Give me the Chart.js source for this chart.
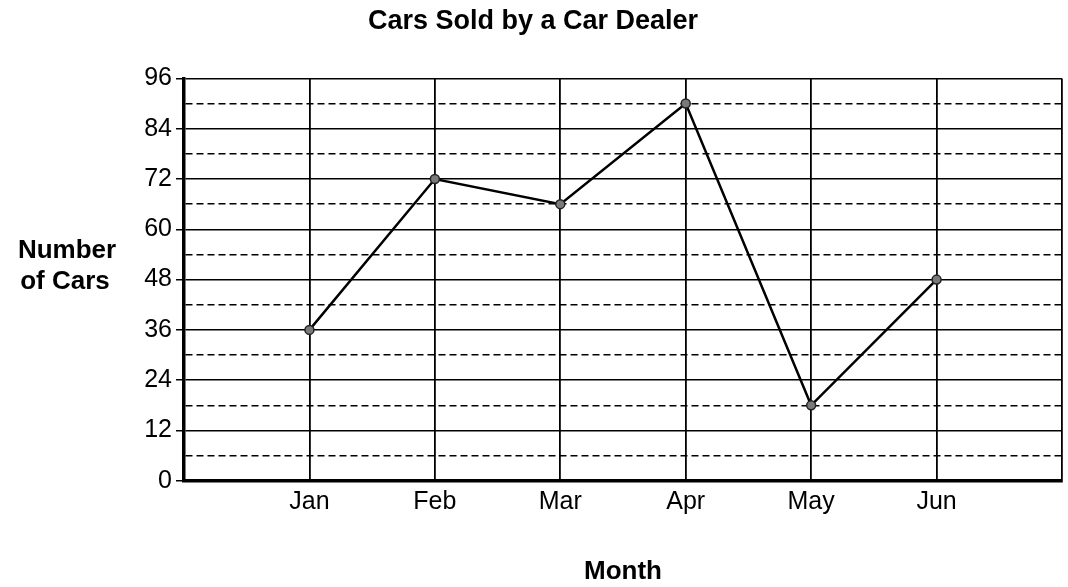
<!DOCTYPE html>
<html>
<head>
<meta charset="utf-8">
<script src="https://cdn.jsdelivr.net/npm/chart.js@4/dist/chart.umd.min.js"></script>
<style>
  html, body { margin: 0; padding: 0; background: #fff; }
  #wrap { width: 1068px; height: 587px; position: relative; }
</style>
</head>
<body>
<div id="wrap"><canvas id="carsChart"></canvas></div>
<script>
// Monthly sales
const months = ['Jan', 'Feb', 'Mar', 'Apr', 'May', 'Jun'];
const carsSold = [36, 72, 66, 90, 18, 48];
const yTicks = [0, 12, 24, 36, 48, 60, 72, 84, 96];

const FONT = '"Liberation Sans", Arial, Helvetica, sans-serif';

// months sit at x = 1..6 on a 0..7 linear axis
const points = months.map((m, i) => ({ x: i + 1, y: carsSold[i] }));

// horizontal y-axis caption on the left
const sideTitle = {
  id: 'sideTitle',
  afterDraw(chart) {
    const ctx = chart.ctx;
    ctx.save();
    ctx.fillStyle = '#000';
    ctx.font = 'bold 26px ' + FONT;
    ctx.textAlign = 'center';
    ctx.textBaseline = 'alphabetic';
    ctx.fillText('Number', 67, 258);
    ctx.fillText('of Cars', 65, 289);
    ctx.restore();
  }
};

const ctx = document.getElementById('carsChart').getContext('2d');

const carsChart = new Chart(ctx, {
  type: 'line',
  data: {
    datasets: [{
      label: 'Cars Sold',
      data: points,
      borderColor: '#000',
      borderWidth: 2.5,
      tension: 0,
      pointRadius: 4.5,
      pointBackgroundColor: '#7a7a7a',
      pointBorderColor: '#222',
      pointBorderWidth: 1.5
    }]
  },
  options: {
    responsive: true,
    maintainAspectRatio: false,
    animation: false,
    layout: { padding: { left: 0, right: 2, top: 0, bottom: 0 } },
    scales: {
      x: {
        type: 'linear',
        min: 0,
        max: 7,
        ticks: {
          stepSize: 1,
          padding: 6,
          color: '#000',
          font: { family: FONT, size: 25 },
          callback: v => months[v - 1] || ''
        },
        grid: {
          drawTicks: false,
          color: c => (c.tick && c.tick.value === 0) ? 'rgba(0,0,0,0)' : '#000',
          lineWidth: 1.8
        },
        border: { display: true, color: '#000', width: 3.5 },
        title: {
          display: true,
          text: 'Month',
          color: '#000',
          font: { family: FONT, size: 26, weight: 'bold' },
          padding: { top: 33, bottom: 0 }
        }
      },
      y: {
        min: 0,
        max: 96,
        // leave room on the left for the caption
        afterFit: axis => { axis.width = 184; },
        afterBuildTicks: axis => {
          // solid lines every 12, dashed halfway lines every 6
          const t = [];
          for (let v = 0; v <= 96; v += 6) t.push({ value: v });
          axis.ticks = t;
        },
        ticks: {
          autoSkip: false,
          padding: 4,
          color: '#000',
          font: { family: FONT, size: 25 },
          callback: v => yTicks.includes(v) ? String(v) : ''
        },
        grid: {
          drawTicks: true,
          tickLength: 8,
          tickWidth: 1.5,
          tickColor: c => (c.tick && c.tick.value % 12 === 0) ? '#000' : 'rgba(0,0,0,0)',
          color: c => (c.tick && c.tick.value === 0) ? 'rgba(0,0,0,0)' : '#000',
          lineWidth: c => (c.tick && c.tick.value % 12 === 0) ? 1.5 : 1.4
        },
        border: {
          display: true,
          color: '#000',
          width: 3.5,
          dash: c => (c.tick && c.tick.value % 12 !== 0) ? [7, 4] : []
        }
      }
    },
    plugins: {
      legend: { display: false },
      tooltip: { enabled: false },
      title: {
        display: true,
        text: 'Cars Sold by a Car Dealer',
        color: '#000',
        font: { family: FONT, size: 27, weight: 'bold' },
        padding: { top: 5, bottom: 41 }
      }
    }
  },
  plugins: [sideTitle]
});
</script>
</body>
</html>
